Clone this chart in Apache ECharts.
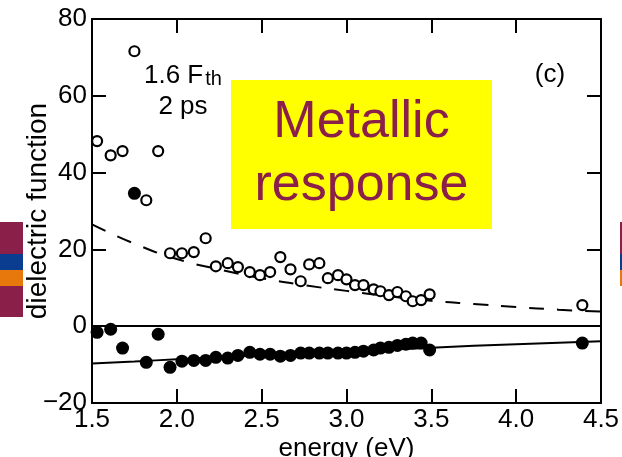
<!DOCTYPE html>
<html>
<head>
<meta charset="utf-8">
<script src="https://cdn.jsdelivr.net/npm/echarts@6/dist/echarts.min.js"></script>
<style>
  html, body { margin: 0; padding: 0; background: #fff; }
  #main { width: 622px; height: 457px; }
</style>
</head>
<body>
<div id="main"></div>
<script>
// photon energy (eV) of the measured points
const energy = [1.53, 1.61, 1.68, 1.75, 1.82, 1.89, 1.96, 2.03, 2.10, 2.17, 2.23, 2.30,
    2.36, 2.43, 2.49, 2.55, 2.61, 2.67, 2.73, 2.78, 2.84, 2.89, 2.95, 3.00,
    3.05, 3.10, 3.16, 3.20, 3.25, 3.30, 3.35, 3.39, 3.44, 3.49, 4.39];
// open circles (imaginary part)
const epsImag = [48.2, 44.5, 45.6, 71.6, 32.8, 45.6, 19.0, 19.0, 19.3, 22.9, 15.6, 16.4,
    15.4, 14.1, 13.3, 14.1, 18.0, 14.8, 11.7, 16.1, 16.4, 12.5, 13.3, 12.2,
    10.7, 10.7, 9.6, 9.1, 8.1, 8.9, 7.8, 6.5, 6.8, 8.3, 5.5];
// filled circles (real part)
const epsReal = [-1.6, -0.8, -5.7, 34.6, -9.4, -2.1, -10.7, -9.1, -8.9, -8.9, -8.1, -8.3,
    -7.6, -6.8, -7.3, -7.3, -7.8, -7.6, -7.0, -7.0, -7.0, -7.0, -7.0, -7.0,
    -6.8, -6.5, -6.2, -5.7, -5.5, -5.0, -4.7, -4.4, -4.4, -6.2, -4.4];

// model curves
const fitE = [1.5, 1.75, 2.0, 2.25, 2.5, 2.75, 3.0, 3.25, 3.5, 3.75, 4.0, 4.25, 4.5];
const fitImag = [26.5, 21.5, 17.5, 14.8, 12.5, 10.7, 9.2, 7.8, 6.6, 5.8, 5.0, 4.3, 3.8];
const fitReal = [-9.7, -9.2, -8.6, -8.1, -7.6, -7.1, -6.6, -6.1, -5.6, -5.1, -4.7, -4.3, -3.9];

const xTicks = [1.5, 4.5, 0.5];   // min, max, step
const yTicks = [-20, 80, 20];

const pairs = (xs, ys) => xs.map((x, i) => [x, ys[i]]);

const font = 'Liberation Sans, Arial, sans-serif';
const maroon = '#8a1f4a';

let chart = echarts.init(document.getElementById('main'), null, {renderer: 'canvas'});

const axisCommon = {
    axisLine: {show: true, onZero: false, lineStyle: {color: '#000', width: 2}},
    axisTick: {show: true, inside: true, length: 14, lineStyle: {color: '#000', width: 2}},
    splitLine: {show: false}
};

let option = {
    backgroundColor: '#fff',
    animation: false,
    grid: {left: 92, right: 21, top: 19, bottom: 54, containLabel: false, outerBoundsMode: 'none'},
    xAxis: [{
        type: 'value', min: xTicks[0], max: xTicks[1], interval: xTicks[2],
        position: 'bottom',
        ...axisCommon,
        axisLabel: {color: '#000', fontSize: 26, fontFamily: font, margin: 4,
            formatter: v => v.toFixed(1)},
        name: 'energy (eV)', nameLocation: 'middle', nameGap: 33, nameMoveOverlap: false,
        nameTextStyle: {color: '#000', fontSize: 26, fontFamily: font}
    }, {
        type: 'value', min: xTicks[0], max: xTicks[1], interval: xTicks[2],
        position: 'top',
        ...axisCommon,
        axisLabel: {show: false}
    }],
    yAxis: [{
        type: 'value', min: yTicks[0], max: yTicks[1], interval: yTicks[2],
        position: 'left',
        ...axisCommon,
        axisLabel: {color: '#000', fontSize: 26, fontFamily: font, margin: 5,
            formatter: v => String(v).replace('-', '\u2212')},
        name: 'dielectric function', nameLocation: 'middle', nameGap: 40, nameMoveOverlap: false,
        nameTextStyle: {color: '#000', fontSize: 28, fontFamily: font}
    }, {
        type: 'value', min: yTicks[0], max: yTicks[1], interval: yTicks[2],
        position: 'right',
        ...axisCommon,
        axisLabel: {show: false}
    }],
    series: [{
        type: 'line',
        data: pairs(fitE, fitImag),
        smooth: true,
        symbol: 'none',
        lineStyle: {color: '#000', width: 2, type: [15, 13]},
        z: 2
    }, {
        type: 'line',
        data: pairs(fitE, fitReal),
        smooth: true,
        symbol: 'none',
        lineStyle: {color: '#000', width: 2},
        markLine: {
            silent: true,
            symbol: 'none',
            label: {show: false},
            lineStyle: {color: '#000', width: 2, type: 'solid'},
            data: [{yAxis: 0}]
        },
        z: 2
    }, {
        type: 'scatter',
        data: pairs(energy, epsImag),
        symbol: 'circle',
        symbolSize: 10,
        itemStyle: {color: '#fff', borderColor: '#000', borderWidth: 2.2, opacity: 1},
        z: 3
    }, {
        type: 'scatter',
        data: pairs(energy, epsReal),
        symbol: 'circle',
        symbolSize: 13,
        itemStyle: {color: '#000', opacity: 1},
        z: 3
    }],
    graphic: [
        // side colour bars
        {type: 'rect', shape: {x: 0, y: 222, width: 23, height: 32}, style: {fill: maroon}},
        {type: 'rect', shape: {x: 0, y: 254, width: 23, height: 16}, style: {fill: '#0a3d8f'}},
        {type: 'rect', shape: {x: 0, y: 270, width: 23, height: 16}, style: {fill: '#e6780c'}},
        {type: 'rect', shape: {x: 0, y: 286, width: 23, height: 31}, style: {fill: maroon}},
        {type: 'rect', shape: {x: 620, y: 222, width: 2, height: 32}, style: {fill: maroon}},
        {type: 'rect', shape: {x: 620, y: 254, width: 2, height: 16}, style: {fill: '#0a3d8f'}},
        {type: 'rect', shape: {x: 620, y: 270, width: 2, height: 16}, style: {fill: '#e6780c'}},
        // yellow box
        {type: 'rect', shape: {x: 231, y: 80, width: 261, height: 149}, style: {fill: '#ffff00'}, z: 10},
        {type: 'text', x: 361.5, y: 154, z: 11, style: {
            text: 'Metallic\nresponse', fill: maroon, font: '52px ' + font,
            lineHeight: 63, align: 'center', verticalAlign: 'middle'}},
        // annotations
        {type: 'text', x: 144, y: 72, z: 11, style: {
            text: '{a|1.6 F}{s|th}', verticalAlign: 'middle',
            rich: {
                a: {fontSize: 26, fontFamily: font, fill: '#000', verticalAlign: 'bottom'},
                s: {fontSize: 20, fontFamily: font, fill: '#000', padding: [14, 0, 0, 2]}
            }}},
        {type: 'text', x: 183, y: 107, z: 11, style: {
            text: '2 ps', fill: '#000', font: '26px ' + font, align: 'center', verticalAlign: 'middle'}},
        {type: 'text', x: 550, y: 75, z: 11, style: {
            text: '(c)', fill: '#000', font: '26px ' + font, align: 'center', verticalAlign: 'middle'}}
    ]
};

chart.setOption(option);

window.onresize = () => {
    chart.resize();
};
</script>
</body>
</html>
